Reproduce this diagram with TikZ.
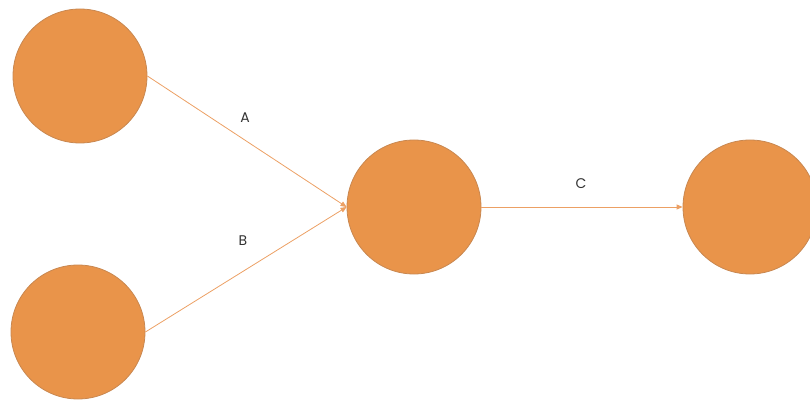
\documentclass[tikz,border=0pt]{standalone}
\usepackage{fontspec}
\setmainfont{Poppins}
\usetikzlibrary{arrows.meta}
\definecolor{fillorange}{RGB}{233,148,74}
\definecolor{edgeorange}{RGB}{200,135,80}
\definecolor{lineorange}{RGB}{236,160,100}
\begin{document}
\begin{tikzpicture}[x=1pt,y=-1pt,
  ball/.style={circle,fill=fillorange,draw=edgeorange,line width=0.8pt,minimum size=134pt,inner sep=0pt},
  conn/.style={draw=lineorange,line width=0.8pt,-{Triangle[length=6pt,width=5pt]}},
  lbl/.style={font=\fontsize{14}{16}\selectfont,text=black!80}]
\useasboundingbox (0,0) rectangle (810,403);
\node[ball] (n1) at (80,76) {};
\node[ball] (n2) at (78,332) {};
\node[ball] (n3) at (414,207) {};
\node[ball] (n4) at (750,207) {};
\draw[conn] (n1.east) -- (n3.west);
\draw[conn] (n2.east) -- (n3.west);
\draw[conn] (n3.east) -- (n4.west);
\node[lbl] (la) at (245,118) {A};
\node[lbl] (lb) at (243,241) {B};
\node[lbl] (lc) at (581,184) {C};
\end{tikzpicture}
\end{document}
